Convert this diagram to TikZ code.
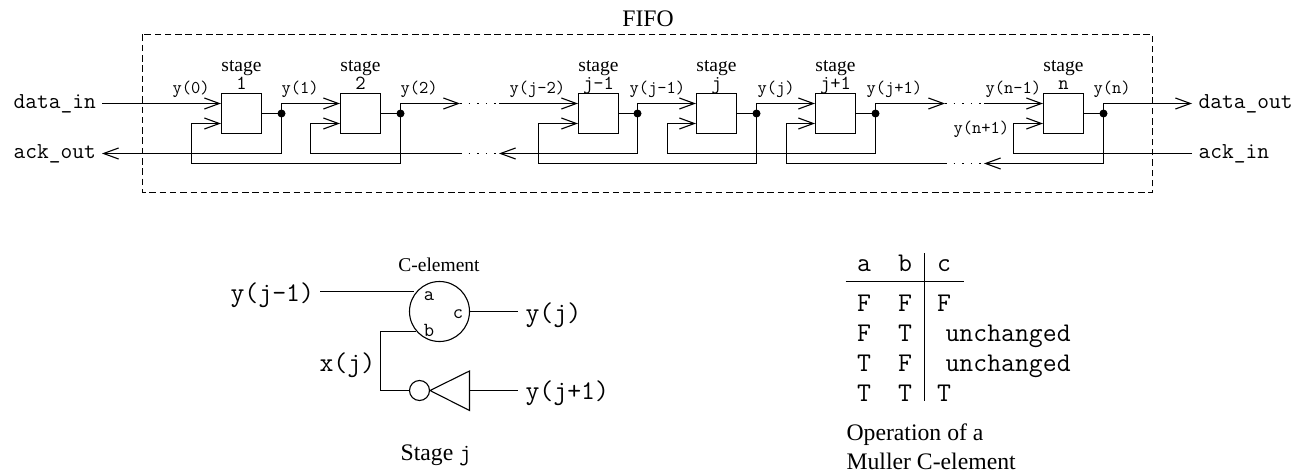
\documentclass[tikz,border=0pt]{standalone}
\usepackage{xcolor}
\usepackage{fontspec}
\setmainfont{Liberation Serif}
\usetikzlibrary{arrows.meta}

\tikzset{
  stagebox/.style={draw,rectangle,minimum size=40pt,inner sep=0pt},
  joint/.style={circle,fill=black,minimum size=8pt,inner sep=0pt},
  ring/.style={draw,circle,inner sep=0pt},
  txt/.style={inner sep=0pt,font=\fontsize{19.5}{20}\selectfont},
  captxt/.style={inner sep=0pt,font=\fontsize{23.7}{24}\selectfont},
  sig/.style={inner sep=0pt,font=\fontsize{18}{19}\selectfont\ttfamily},
  num/.style={inner sep=0pt,font=\fontsize{20}{21}\selectfont\ttfamily},
  port/.style={inner sep=0pt,font=\fontsize{22.8}{24}\selectfont\ttfamily},
  big/.style={inner sep=0pt,font=\fontsize{27}{28}\selectfont\ttfamily},
  gap/.style={line width=1.1pt,dash pattern=on 1.6pt off 7pt},
}

\begin{document}
\begin{tikzpicture}[x=1pt,y=-1pt,line width=1.1pt,>={Straight Barb[length=15pt,width=11pt]}]
  \useasboundingbox (0,0) rectangle (1309,476);

  \draw[dash pattern=on 6.5pt off 3.8pt,line width=1pt] (142.5,34.5) rectangle (1152.5,192.5);
  \node[captxt,anchor=base] (fifo) at (648,27) {FIFO};

  % the stages
  \node[stagebox] (st1) at (241.5,113.5) {};
  \node[stagebox] (st2) at (360.5,113.5) {};
  \node[stagebox] (stjm) at (598.5,113.5) {};
  \node[stagebox] (stj) at (716.5,113.5) {};
  \node[stagebox] (stjp) at (835.5,113.5) {};
  \node[stagebox] (stn) at (1063.5,113.5) {};

  \node[joint] (j1) at (281.5,113.5) {};
  \node[joint] (j2) at (400.5,113.5) {};
  \node[joint] (jjm) at (637.5,113.5) {};
  \node[joint] (jj) at (756.5,113.5) {};
  \node[joint] (jjp) at (875.5,113.5) {};
  \node[joint] (jn) at (1103.5,113.5) {};

  \draw (st1.east) -- (j1.center);
  \draw (st2.east) -- (j2.center);
  \draw (stjm.east) -- (jjm.center);
  \draw (stj.east) -- (jj.center);
  \draw (stjp.east) -- (jjp.center);
  \draw (stn.east) -- (jn.center);

  \coordinate (st1a) at ([yshift=10pt]st1.west);
  \coordinate (st1b) at ([yshift=-10pt]st1.west);
  \coordinate (st2a) at ([yshift=10pt]st2.west);
  \coordinate (st2b) at ([yshift=-10pt]st2.west);
  \coordinate (stjma) at ([yshift=10pt]stjm.west);
  \coordinate (stjmb) at ([yshift=-10pt]stjm.west);
  \coordinate (stja) at ([yshift=10pt]stj.west);
  \coordinate (stjb) at ([yshift=-10pt]stj.west);
  \coordinate (stjpa) at ([yshift=10pt]stjp.west);
  \coordinate (stjpb) at ([yshift=-10pt]stjp.west);
  \coordinate (stna) at ([yshift=10pt]stn.west);
  \coordinate (stnb) at ([yshift=-10pt]stn.west);

  % free ends
  \coordinate (dinl) at (102,103.5);
  \coordinate (aoutl) at (102,153.5);
  \coordinate (doutr) at (1192,103.5);
  \coordinate (ainr) at (1192,153.5);
  \coordinate (gfa1) at (460,103.5);
  \coordinate (gfa2) at (499,103.5);
  \coordinate (gfb1) at (945,103.5);
  \coordinate (gfb2) at (984,103.5);
  \coordinate (gba1) at (460,153.5);
  \coordinate (gba2) at (499,153.5);
  \coordinate (gbb1) at (945,163.5);
  \coordinate (gbb2) at (984,163.5);

  % forward path
  \draw[->] (dinl) -- (st1a);
  \draw[->] (j1.center) |- (st2a);
  \draw[->] (j2.center) |- (gfa1);
  \draw[gap] (gfa1) -- (gfa2);
  \draw[->] (gfa2) -- (stjma);
  \draw[->] (jjm.center) |- (stja);
  \draw[->] (jj.center) |- (stjpa);
  \draw[->] (jjp.center) |- (gfb1);
  \draw[gap] (gfb1) -- (gfb2);
  \draw[->] (gfb2) -- (stna);
  \draw[->] (jn.center) |- (doutr);

  % backward path
  \draw[->] (j1.center) |- (aoutl);
  \draw[->] (j2.center) -- (400.5,163.5) -| (191.5,123.5) -- (st1b);
  \draw[->] (gba1) -- (310.5,153.5) |- (st2b);
  \draw[gap] (gba1) -- (gba2);
  \draw[->] (jjm.center) |- (gba2);
  \draw[->] (jj.center) -- (756.5,163.5) -| (538.5,123.5) -- (stjmb);
  \draw[->] (jjp.center) -- (875.5,153.5) -| (667.5,123.5) -- (stjb);
  \draw[->] (gbb1) -- (786.5,163.5) |- (stjpb);
  \draw[gap] (gbb1) -- (gbb2);
  \draw[->] (jn.center) |- (gbb2);
  \draw[->] (ainr) -- (1013.5,153.5) |- (stnb);

  % labels of the fifo
  \node[port,anchor=base west] (datain) at (13,109) {data\_in};
  \node[port,anchor=base west] (ackout) at (13,159) {ack\_out};
  \node[port,anchor=base west] (dataout) at (1198,109) {data\_out};
  \node[port,anchor=base west] (ackin) at (1198,159) {ack\_in};

  \node[sig,anchor=base west] (y0) at (172,94) {y(0)};
  \node[sig,anchor=base west] (y1) at (281,94) {y(1)};
  \node[sig,anchor=base west] (y2) at (400,94) {y(2)};
  \node[sig,anchor=base west] (yjmm) at (509,94) {y(j-2)};
  \node[sig,anchor=base west] (yjm) at (629,94) {y(j-1)};
  \node[sig,anchor=base west] (yj) at (757,94) {y(j)};
  \node[sig,anchor=base west] (yjp) at (866,94) {y(j+1)};
  \node[sig,anchor=base west] (ynm) at (985,94) {y(n-1)};
  \node[sig,anchor=base west] (yn) at (1093,94) {y(n)};
  \node[sig,anchor=base west] (ynp) at (953,133.3) {y(n+1)};

  \node[txt,anchor=base] (lst1) at (241.5,71.7) {stage};
  \node[txt,anchor=base] (lst2) at (360.5,71.7) {stage};
  \node[txt,anchor=base] (lstjm) at (598.5,71.7) {stage};
  \node[txt,anchor=base] (lstj) at (716.5,71.7) {stage};
  \node[txt,anchor=base] (lstjp) at (835.5,71.7) {stage};
  \node[txt,anchor=base] (lstn) at (1063.5,71.7) {stage};
  \node[num,anchor=base] (n1) at (241.5,90) {1};
  \node[num,anchor=base] (n2) at (360.5,90) {2};
  \node[num,anchor=base] (njm) at (598.5,90) {j-1};
  \node[num,anchor=base] (nj) at (716.5,90) {j};
  \node[num,anchor=base] (njp) at (835.5,90) {j+1};
  \node[num,anchor=base] (nn) at (1063.5,90) {n};

  % one stage
  \node[ring,minimum size=60pt] (celem) at (439.5,311.5) {};
  \node[ring,minimum size=20pt] (bubble) at (419.5,390.5) {};
  \coordinate (inva) at (430,390.5);
  \coordinate (invb) at (469.5,390.5);
  \draw (inva) -- (469.5,371) -- (469.5,410.5) -- cycle;
  \coordinate (yjmend) at (320,291.5);
  \coordinate (yjmin) at (414,291.5);
  \coordinate (yjend) at (518,311.5);
  \coordinate (yjpend) at (518,390.5);
  \coordinate (xjin) at (416,331.5);
  \coordinate (xjup) at (380.5,331.5);

  \draw (yjmend) -- (yjmin);
  \draw (celem.east) -- (yjend);
  \draw (invb) -- (yjpend);
  \draw (xjin) -- (xjup) |- (bubble.west);

  \node[txt,anchor=base] (lcelem) at (439,271.7) {C-element};
  \node[num,anchor=base] (la) at (429,300) {a};
  \node[num,anchor=base] (lc) at (458,318) {c};
  \node[num,anchor=base] (lb) at (429,336) {b};
  \node[big,anchor=base west] (tyjm) at (230,301.7) {y(j-1)};
  \node[big,anchor=base west] (tyj) at (525,321) {y(j)};
  \node[big,anchor=base west] (tyjp) at (525,399) {y(j+1)};
  \node[big,anchor=base west] (txj) at (319,371) {x(j)};
  \node[captxt,anchor=base] (lstage) at (436,460) {Stage \texttt{j}};

  % truth table
  \coordinate (hl) at (845.5,281.5);
  \coordinate (hr) at (964,281.5);
  \coordinate (vt) at (924.5,253);
  \coordinate (vb) at (924.5,400.5);
  \draw (hl) -- (hr);
  \draw (vt) -- (vb);

  \node[big,anchor=base] (ha) at (864,271.7) {a};
  \node[big,anchor=base] (hb) at (905,271.7) {b};
  \node[big,anchor=base] (hc) at (944,271.7) {c};
  \node[big,anchor=base] (r1a) at (864,311) {F};
  \node[big,anchor=base] (r1b) at (905,311) {F};
  \node[big,anchor=base] (r1c) at (944,311) {F};
  \node[big,anchor=base] (r2a) at (864,341) {F};
  \node[big,anchor=base] (r2b) at (905,341) {T};
  \node[big,anchor=base west] (r2c) at (945,341) {unchanged};
  \node[big,anchor=base] (r3a) at (864,371) {T};
  \node[big,anchor=base] (r3b) at (905,371) {F};
  \node[big,anchor=base west] (r3c) at (945,371) {unchanged};
  \node[big,anchor=base] (r4a) at (864,401) {T};
  \node[big,anchor=base] (r4b) at (905,401) {T};
  \node[big,anchor=base] (r4c) at (944,401) {T};
  \node[captxt,anchor=base west] (lop) at (846,440) {Operation of a};
  \node[captxt,anchor=base west] (lmul) at (846,469) {Muller C-element};
\end{tikzpicture}
\end{document}
